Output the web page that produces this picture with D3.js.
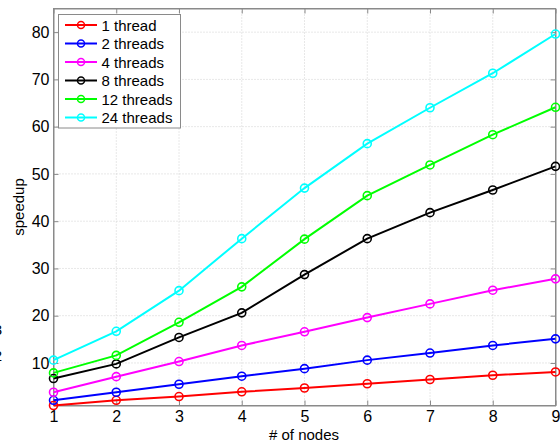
<!DOCTYPE html>
<html>
<head>
<meta charset="utf-8">
<script src="https://cdn.jsdelivr.net/npm/d3@7"></script>
<style>
  body { margin: 0; background: #fff; }
  svg text { font-family: "Liberation Sans", Arial, sans-serif; fill: #000; }
</style>
</head>
<body>
<svg id="chart" width="560" height="443"></svg>
<script>
// node counts on x axis
var nodes = [1, 2, 3, 4, 5, 6, 7, 8, 9];
var seriesNames = ["1 thread", "2 threads", "4 threads", "8 threads", "12 threads", "24 threads"];
var seriesColors = ["#ff0000", "#0000ff", "#ff00ff", "#000000", "#00ff00", "#00ffff"];
// speedup per series
var speedup1 = [1.0, 2.1, 2.9, 3.9, 4.7, 5.6, 6.5, 7.4, 8.1];
var speedup2 = [2.1, 3.8, 5.5, 7.2, 8.8, 10.6, 12.1, 13.7, 15.1];
var speedup4 = [3.8, 7.1, 10.3, 13.7, 16.6, 19.6, 22.5, 25.4, 27.8];
var speedup8 = [6.7, 9.8, 15.4, 20.6, 28.7, 36.3, 41.8, 46.6, 51.6];
var speedup12 = [7.9, 11.6, 18.6, 26.1, 36.2, 45.4, 51.9, 58.3, 64.1];
var speedup24 = [10.6, 16.7, 25.3, 36.3, 47.0, 56.4, 64.0, 71.3, 79.6];
var yTicks = [10, 20, 30, 40, 50, 60, 70, 80];

var allSeries = [speedup1, speedup2, speedup4, speedup8, speedup12, speedup24];

(function () {
var svg = d3.select("#chart");
var pLeft = 53.5, pRight = 555.5, pTop = 8.5, pBottom = 405.5;

var x = d3.scaleLinear().domain([1, 9]).range([pLeft, pRight]);
var y = d3.scaleLinear().domain([1, 85]).range([pBottom, pTop]);

// dotted grid
var grid = svg.append("g").attr("stroke", "#d0d0d0").attr("stroke-dasharray", "1,2").attr("stroke-width", 1);
nodes.forEach(function (n) {
    grid.append("line").attr("x1", x(n)).attr("x2", x(n)).attr("y1", pTop).attr("y2", pBottom);
});
yTicks.forEach(function (t) {
    grid.append("line").attr("x1", pLeft).attr("x2", pRight).attr("y1", y(t)).attr("y2", y(t));
});

// axes (inside ticks on all four sides, like a boxed matlab plot)
var tickLen = 5;
svg.append("g").attr("transform", "translate(0," + pBottom + ")")
    .call(d3.axisBottom(x).tickValues(nodes).tickFormat(d3.format("d")).tickSizeInner(-tickLen).tickSizeOuter(0).tickPadding(5));
svg.append("g").attr("transform", "translate(" + pLeft + ",0)")
    .call(d3.axisLeft(y).tickValues(yTicks).tickSizeInner(-tickLen).tickSizeOuter(0).tickPadding(4));
svg.append("g").attr("transform", "translate(0," + pTop + ")")
    .call(d3.axisTop(x).tickValues(nodes).tickFormat("").tickSizeInner(-tickLen).tickSizeOuter(0));
svg.append("g").attr("transform", "translate(" + pRight + ",0)")
    .call(d3.axisRight(y).tickValues(yTicks).tickFormat("").tickSizeInner(-tickLen).tickSizeOuter(0));
svg.selectAll(".domain").attr("stroke", "#8a8a8a");
svg.selectAll(".tick line").attr("stroke", "#8a8a8a");
svg.selectAll(".tick text").attr("fill", "#000").attr("font-size", "16px")
    .attr("font-family", "Liberation Sans, Arial, sans-serif");
svg.append("rect").attr("x", pLeft).attr("y", pTop).attr("width", pRight - pLeft).attr("height", pBottom - pTop)
    .attr("fill", "none").attr("stroke", "#8a8a8a");

// lines and markers
var line = d3.line().x(function (d, i) { return x(nodes[i]); }).y(function (d) { return y(d); });
allSeries.forEach(function (s, k) {
    svg.append("path").datum(s).attr("d", line)
        .attr("fill", "none").attr("stroke", seriesColors[k]).attr("stroke-width", 2);
    svg.append("g").selectAll("circle").data(s).join("circle")
        .attr("cx", function (d, i) { return x(nodes[i]); })
        .attr("cy", function (d) { return y(d); })
        .attr("r", 4)
        .attr("fill", "none").attr("stroke", seriesColors[k]).attr("stroke-width", 1.6);
});

// labels
svg.append("text").attr("x", 304).attr("y", 440).attr("text-anchor", "middle")
    .attr("font-size", "15px").text("# of nodes");
svg.append("text").attr("transform", "translate(24,207) rotate(-90)").attr("text-anchor", "middle")
    .attr("font-size", "15px").text("speedup");
// clipped bits of text at the left edge
svg.append("text").attr("x", 2).attr("y", 335).attr("text-anchor", "end").attr("font-size", "15px").text("3");
svg.append("text").attr("x", 2).attr("y", 361).attr("text-anchor", "end").attr("font-size", "15px").text("2");

// legend
var legend = svg.append("g");
legend.append("rect").attr("x", 58.5).attr("y", 14.5).attr("width", 122).attr("height", 113.5)
    .attr("fill", "#fff").attr("stroke", "#8a8a8a");
seriesNames.forEach(function (name, k) {
    var ly = 25 + k * 18.5;
    legend.append("line").attr("x1", 65).attr("x2", 97).attr("y1", ly).attr("y2", ly)
        .attr("stroke", seriesColors[k]).attr("stroke-width", 2);
    legend.append("circle").attr("cx", 81).attr("cy", ly).attr("r", 3.5)
        .attr("fill", "none").attr("stroke", seriesColors[k]).attr("stroke-width", 1.5);
    legend.append("text").attr("x", 101.5).attr("y", ly + 5.5).attr("font-size", "15px").text(name);
});
})();
</script>
</body>
</html>
